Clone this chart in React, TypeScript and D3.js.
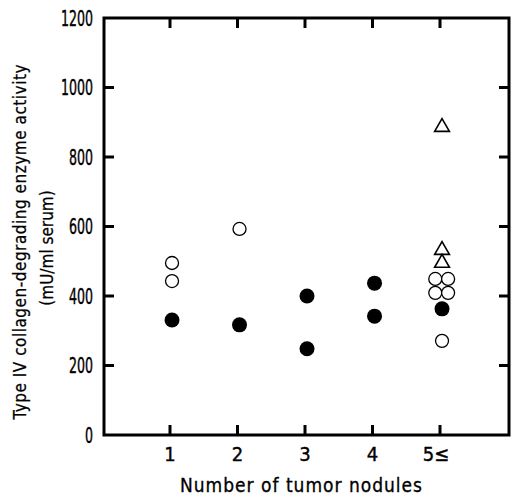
import React, { useEffect, useRef } from 'react';
import * as d3 from 'd3';

// tick labels
const xTicks = [1, 2, 3, 4, 5];
const xTickLabels = ['1', '2', '3', '4', '5≤'];
const yTicks = [0, 200, 400, 600, 800, 1000, 1200];

// points (x = group, small offsets for the crowded group)
const filledX = [1.03, 2.03, 3.03, 3.03, 4.03, 4.03, 5.03];
const filledY = [331, 317, 400, 248, 437, 342, 363];

const openX = [1.03, 1.03, 2.03, 4.93, 5.12, 4.93, 5.12, 5.03];
const openY = [495, 443, 593, 449, 449, 409, 409, 271];

const triX = [5.03, 5.03, 5.03];
const triY = [886, 532, 495];

const FONT = "'DejaVu Sans Condensed', 'DejaVu Sans', sans-serif";

export default function App() {
  const svgRef = useRef<SVGSVGElement>(null);

  useEffect(() => {
    if (!svgRef.current) return;
    const svg = d3.select(svgRef.current);
    svg.selectAll('*').remove();

    const left = 104, right = 509, top = 18, bottom = 435;

    const x = d3.scaleLinear().domain([0, 6]).range([102.5, 507.5]);
    const y = d3.scaleLinear().domain([0, 1200]).range([bottom, top]);

    const g = svg.append('g');

    // frame
    g.append('rect')
      .attr('x', left).attr('y', top)
      .attr('width', right - left).attr('height', bottom - top)
      .attr('fill', 'none').attr('stroke', '#000').attr('stroke-width', 3);

    const tl = 10;
    // x ticks, bottom + top, pointing inward
    xTicks.forEach(t => {
      g.append('line').attr('x1', x(t)).attr('x2', x(t)).attr('y1', bottom).attr('y2', bottom - tl)
        .attr('stroke', '#000').attr('stroke-width', 3);
      g.append('line').attr('x1', x(t)).attr('x2', x(t)).attr('y1', top).attr('y2', top + tl)
        .attr('stroke', '#000').attr('stroke-width', 3);
    });
    // y ticks, left + right
    yTicks.slice(1, -1).forEach(t => {
      g.append('line').attr('x1', left).attr('x2', left + tl).attr('y1', y(t)).attr('y2', y(t))
        .attr('stroke', '#000').attr('stroke-width', 3);
      g.append('line').attr('x1', right).attr('x2', right - tl).attr('y1', y(t)).attr('y2', y(t))
        .attr('stroke', '#000').attr('stroke-width', 3);
    });

    // y tick labels
    g.selectAll('.ylab')
      .data(yTicks)
      .join('text')
      .attr('class', 'ylab')
      .attr('x', 93)
      .attr('y', d => y(d) + 7.5)
      .attr('text-anchor', 'end')
      .attr('textLength', d => String(d).length * 8)
      .attr('lengthAdjust', 'spacingAndGlyphs')
      .style('font-family', FONT)
      .style('font-stretch', 'condensed')
      .style('font-size', '21px')
      .style('stroke', '#000').style('stroke-width', 0.4)
      .text(d => String(d));

    // x tick labels
    g.selectAll('.xlab')
      .data(xTicks)
      .join('text')
      .attr('class', 'xlab')
      .attr('x', (d, i) => x(d) + (i === 4 ? -4 : 0))
      .attr('y', 461)
      .attr('text-anchor', 'middle')
      .style('font-family', FONT)
      .style('font-stretch', 'condensed')
      .style('font-size', '20px')
      .style('stroke', '#000').style('stroke-width', 0.4)
      .text((d, i) => xTickLabels[i]);

    // axis titles
    g.append('text')
      .attr('x', 301).attr('y', 492)
      .attr('text-anchor', 'middle')
      .attr('textLength', 242)
      .style('font-family', FONT)
      .style('font-stretch', 'condensed')
      .style('font-size', '19px')
      .style('stroke', '#000').style('stroke-width', 0.3)
      .text('Number of tumor nodules');

    g.append('text')
      .attr('transform', 'translate(26,242) rotate(-90)')
      .attr('text-anchor', 'middle')
      .attr('textLength', 355)
      .style('font-family', FONT)
      .style('font-stretch', 'condensed')
      .style('font-size', '17px')
      .style('stroke', '#000').style('stroke-width', 0.25)
      .text('Type IV collagen-degrading enzyme activity');

    g.append('text')
      .attr('transform', 'translate(53,248) rotate(-90)')
      .attr('text-anchor', 'middle')
      .style('font-family', FONT)
      .style('font-stretch', 'condensed')
      .style('font-size', '17px')
      .style('stroke', '#000').style('stroke-width', 0.25)
      .text('(mU/ml serum)');

    // points
    g.selectAll('.open')
      .data(openX.map((v, i) => [v, openY[i]]))
      .join('circle')
      .attr('class', 'open')
      .attr('cx', d => x(d[0])).attr('cy', d => y(d[1]))
      .attr('r', 6.5)
      .attr('fill', '#fff').attr('stroke', '#000').attr('stroke-width', 1.3);

    g.selectAll('.filled')
      .data(filledX.map((v, i) => [v, filledY[i]]))
      .join('circle')
      .attr('class', 'filled')
      .attr('cx', d => x(d[0])).attr('cy', d => y(d[1]))
      .attr('r', 7.5)
      .attr('fill', '#000');

    const tri = d3.symbol().type(d3.symbolTriangle).size(95);
    g.selectAll('.tri')
      .data(triX.map((v, i) => [v, triY[i]]))
      .join('path')
      .attr('class', 'tri')
      .attr('transform', d => `translate(${x(d[0])},${y(d[1])})`)
      .attr('d', tri as any)
      .attr('fill', '#fff').attr('stroke', '#000').attr('stroke-width', 1.6);
  }, []);

  return (
    <svg
      ref={svgRef}
      width={514}
      height={495}
      style={{ position: 'absolute', left: 0, top: 0, background: '#fff' }}
    />
  );
}
